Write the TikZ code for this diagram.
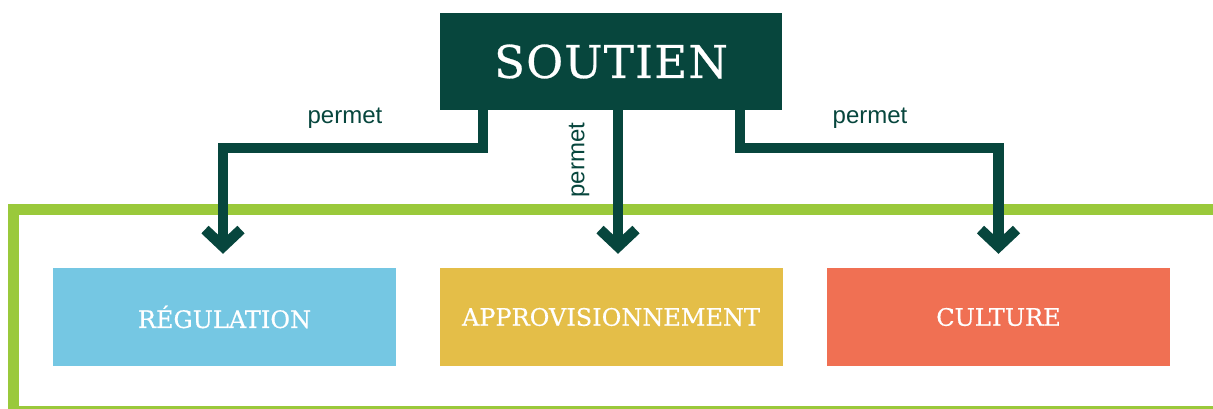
\documentclass[tikz,border=0pt]{standalone}
\usepackage{fontspec}
\setmainfont{DejaVu Serif}
\newfontfamily\labelfont{Liberation Sans}
\newfontfamily\titlefont[LetterSpace=3,FakeBold=0.6]{DejaVu Serif}
\newfontfamily\catfont[FakeBold=0.5]{DejaVu Serif}
\usetikzlibrary{arrows.meta}
\definecolor{dkgreen}{HTML}{07463D}
\definecolor{lime}{HTML}{9AC93B}
\definecolor{regblue}{HTML}{75C7E3}
\definecolor{appyellow}{HTML}{E4BE48}
\definecolor{culorange}{HTML}{F07053}
\tikzset{
  topbox/.style={fill=dkgreen, minimum width=342pt, minimum height=97pt, inner sep=0pt,
    text=white, font=\titlefont\fontsize{45}{50}\selectfont},
  catbox/.style={minimum width=343pt, minimum height=98pt, inner sep=0pt,
    text=white, font=\catfont\fontsize{24}{28}\selectfont},
  conn/.style={draw=dkgreen, line width=10.5pt, line join=miter, line cap=butt,
    -{Straight Barb[length=17pt,width=36pt,sharp]}},
  lbl/.style={text=dkgreen, font=\labelfont\fontsize{24}{26}\selectfont, inner sep=0pt},
  frame/.style={draw=lime, line width=11pt, line join=miter}
}
\begin{document}
\begin{tikzpicture}[x=1pt,y=-1pt]
\useasboundingbox (0,0) rectangle (1213,408);
\draw[frame] (1230,209) -- (13.5,209) -- (13.5,411.5) -- (1230,411.5);
\node[topbox] (soutien) at (611,61.5) {SOUTIEN};
\node[catbox, fill=regblue] (reg) at (224.5,317) {RÉGULATION};
\node[catbox, fill=appyellow] (appro) at (611,317) {APPROVISIONNEMENT};
\node[catbox, fill=culorange] (cult) at (998.5,317) {CULTURE};
\coordinate (l1) at (483,148);
\coordinate (m1) at (618,0);
\coordinate (r1) at (740,148);
\draw[conn] (soutien.south -| l1) -- (l1) -| ([yshift=14pt]reg.north -| 223,0);
\draw[conn] (soutien.south -| m1) -- ([yshift=14pt]appro.north -| m1);
\draw[conn] (soutien.south -| r1) -- (r1) -| ([yshift=14pt]cult.north);
\node[lbl] (p1) at (345,118) {permet};
\node[lbl, rotate=90] (p2) at (579,160) {permet};
\node[lbl] (p3) at (870,118) {permet};
\end{tikzpicture}
\end{document}
